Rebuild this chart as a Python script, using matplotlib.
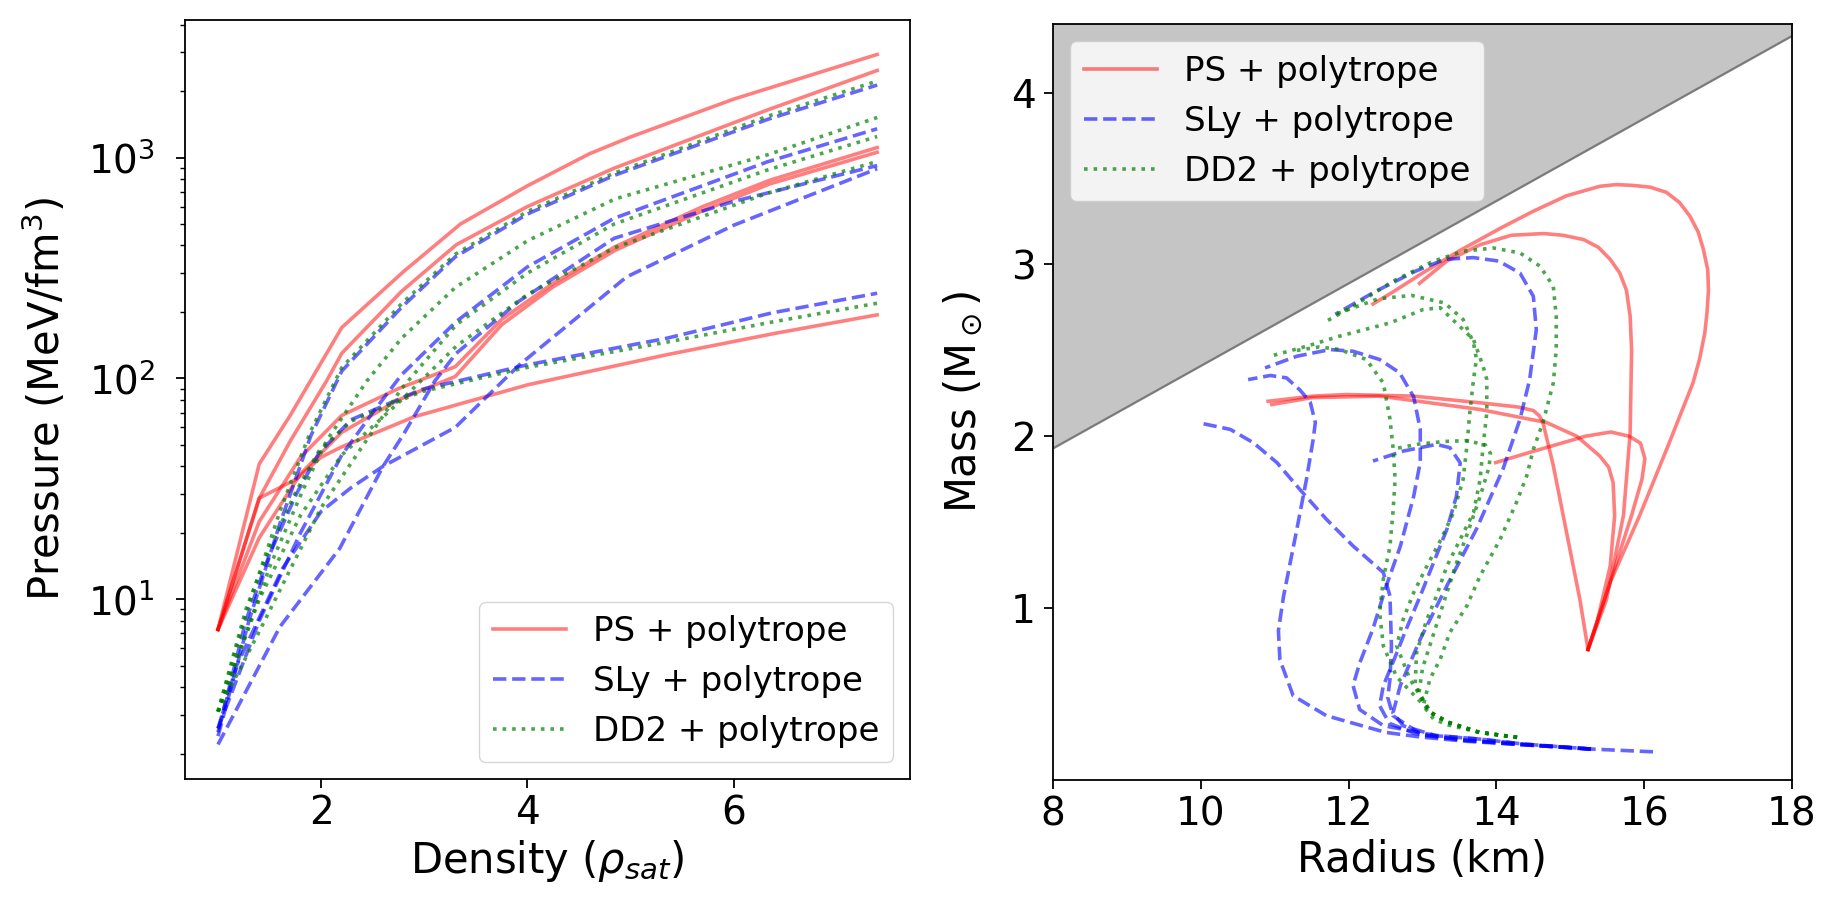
import matplotlib
matplotlib.use("Agg")
import matplotlib.pyplot as plt

# ---------------- Equation of state: pressure vs density ----------------
# PS + polytrope
ps_density = [
    [1.0, 1.4, 1.7, 2.2, 2.8, 3.35, 4.0, 4.6, 5.0, 6.0, 7.39],
    [1.0, 1.4, 1.7, 2.05, 2.2, 2.78, 3.31, 4.0, 4.84, 6.33, 7.39],
    [1.0, 1.4, 1.8, 2.2, 2.75, 3.3, 3.75, 4.25, 4.85, 5.7, 6.35, 7.39],
    [1.0, 1.4, 1.8, 2.2, 2.75, 3.3, 3.75, 4.25, 4.85, 5.7, 6.35, 7.39],
    [1.0, 1.4, 1.76, 2.0, 2.2, 2.9, 4.0, 5.35, 6.4, 7.39],
]
ps_pressure = [
    [7.3, 41, 68, 170, 305, 500, 745, 1040, 1240, 1840, 2930],
    [7.3, 28.7, 52, 97, 130, 248, 403, 600, 895, 1645, 2480],
    [7.3, 22.5, 44, 68, 90, 113, 185, 270, 395, 600, 790, 1110],
    [7.3, 19, 37, 57, 80, 102, 175, 260, 380, 575, 760, 1057],
    [7.3, 28.7, 35, 44, 49, 67, 93.5, 128, 160, 194],
]

# SLy + polytrope
sly_density = [
    [1.0, 1.3, 1.6, 1.9, 2.2, 2.78, 3.3, 4.0, 4.84, 6.33, 7.39],
    [1.0, 1.4, 1.8, 2.2, 2.5, 2.78, 3.31, 4.0, 4.84, 6.33, 7.39],
    [1.0, 1.6, 2.18, 2.6, 2.8, 3.1, 3.31, 3.92, 4.84, 6.0, 7.39],
    [1.0, 1.18, 1.63, 2.0, 2.29, 2.6, 3.3, 3.92, 4.96, 6.0, 7.39],
    [1.0, 1.27, 1.5, 1.76, 1.98, 2.29, 2.97, 3.99, 5.35, 6.37, 7.39],
]
sly_pressure = [
    [2.4, 8, 22, 55, 108, 210, 355, 555, 830, 1490, 2130],
    [2.6, 8, 20, 45, 70, 104, 181, 320, 531, 958, 1350],
    [2.2, 7.5, 17, 40, 56, 97, 130, 224, 431, 633, 920],
    [2.6, 5, 13.9, 25, 32, 40, 60, 115, 288, 494, 890],
    [2.5, 8, 16, 30, 46, 65, 89, 115, 152, 198, 243],
]

# DD2 + polytrope
dd2_density = [
    [1.0, 1.3, 1.6, 1.9, 2.2, 2.78, 3.3, 4.0, 4.84, 6.33, 7.39],
    [1.0, 1.5, 1.82, 2.05, 2.44, 2.78, 3.3, 4.0, 4.85, 6.33, 7.39],
    [1.0, 1.39, 2.0, 2.48, 2.78, 3.31, 4.0, 4.84, 6.33, 7.39],
    [1.0, 1.4, 1.8, 2.2, 2.78, 3.31, 4.0, 4.84, 6.33, 7.39],
    [1.0, 1.27, 1.5, 1.76, 1.98, 2.29, 2.97, 3.99, 5.35, 6.37, 7.39],
]
dd2_pressure = [
    [3.1, 9.5, 25, 58, 112, 218, 365, 570, 850, 1540, 2220],
    [3.1, 14, 31, 52, 97, 152, 258, 420, 650, 1030, 1518],
    [3.1, 7, 26, 56, 90, 175, 300, 500, 880, 1245],
    [3.1, 10, 24, 45, 80, 140, 240, 390, 690, 960],
    [3.1, 9, 17, 31, 47, 64, 87, 112, 146, 180, 219],
]

# ---------------- Mass-radius relations ----------------
ps_radius = [
    [15.24, 15.54, 15.94, 16.3, 16.66, 16.75, 16.82, 16.85, 16.87, 16.86, 16.8, 16.73, 16.62, 16.48, 16.3, 16.08, 15.85,
     15.62, 15.4, 14.95, 14.5, 14.05, 13.5, 13.0, 12.6, 12.33],
    [15.24, 15.49, 15.72, 15.81, 15.83, 15.81, 15.76, 15.67, 15.54, 15.38, 15.18, 14.9, 14.64, 14.2, 13.78, 13.33, 12.96],
    [15.24, 15.13, 14.95, 14.77, 14.63, 14.58, 14.5, 14.3, 13.78, 12.88, 11.97, 11.52, 10.91],
    [15.24, 15.36, 15.54, 15.6, 15.58, 15.52, 15.4, 15.09, 14.68, 13.78, 12.42, 11.5, 10.96],
    [15.24, 15.5, 15.83, 15.97, 16.01, 15.95, 15.8, 15.55, 15.2, 14.8, 14.4, 13.99],
]
ps_mass = [
    [0.76, 1.15, 1.54, 1.92, 2.31, 2.45, 2.6, 2.72, 2.85, 2.97, 3.09, 3.19, 3.28, 3.36, 3.42, 3.45, 3.46,
     3.465, 3.455, 3.40, 3.31, 3.21, 3.08, 2.95, 2.84, 2.77],
    [0.76, 1.05, 1.54, 2.02, 2.5, 2.7, 2.85, 2.95, 3.03, 3.1, 3.145, 3.17, 3.18, 3.17, 3.115, 3.02, 2.89],
    [0.76, 1.05, 1.44, 1.83, 2.08, 2.12, 2.15, 2.17, 2.195, 2.234, 2.243, 2.234, 2.204],
    [0.76, 0.916, 1.245, 1.536, 1.73, 1.82, 1.885, 2.0, 2.08, 2.156, 2.234, 2.225, 2.185],
    [0.76, 1.1, 1.54, 1.75, 1.87, 1.96, 2.0, 2.025, 2.0, 1.95, 1.9, 1.847],
]

sly_radius = [
    [16.12, 15.28, 14.37, 13.77, 13.19, 12.74, 12.6, 12.7, 12.97, 13.33, 13.73, 14.09, 14.32, 14.45, 14.54, 14.5, 14.32, 14.03, 13.69, 13.3, 12.9, 12.35, 11.82],
    [15.28, 14.37, 13.77, 13.17, 12.47, 12.15, 12.06, 12.15, 12.33, 12.51, 12.7, 12.88, 12.97, 12.97, 12.88, 12.69, 12.42, 12.06, 11.75, 11.3, 10.87],
    [15.28, 14.37, 13.6, 12.97, 12.5, 11.7, 11.25, 11.07, 11.05, 11.12, 11.3, 11.43, 11.52, 11.55, 11.48, 11.34, 11.16, 10.94, 10.64],
    [15.28, 14.37, 13.6, 13.0, 12.6, 12.53, 12.56, 12.58, 12.56, 12.47, 12.06, 11.7, 11.34, 11.03, 10.71, 10.4, 9.97],
    [15.28, 14.37, 13.6, 12.9, 12.55, 12.42, 12.47, 12.6, 12.78, 12.97, 13.15, 13.33, 13.46, 13.51, 13.37, 13.19, 12.74, 12.33],
]
sly_mass = [
    [0.164, 0.18, 0.209, 0.238, 0.257, 0.315, 0.39, 0.55, 0.82, 1.13, 1.46, 1.81, 2.10, 2.33, 2.62, 2.815, 2.95, 3.02, 3.04, 3.03, 2.96, 2.84, 2.71],
    [0.18, 0.209, 0.238, 0.26, 0.316, 0.41, 0.55, 0.68, 0.88, 1.13, 1.36, 1.65, 1.85, 2.04, 2.23, 2.37, 2.447, 2.495, 2.505, 2.466, 2.398],
    [0.18, 0.205, 0.225, 0.25, 0.277, 0.374, 0.49, 0.7, 0.87, 1.07, 1.46, 1.75, 1.98, 2.08, 2.2, 2.27, 2.34, 2.354, 2.33],
    [0.18, 0.205, 0.23, 0.26, 0.374, 0.48, 0.587, 0.78, 1.07, 1.207, 1.362, 1.517, 1.691, 1.847, 1.963, 2.04, 2.079],
    [0.18, 0.205, 0.23, 0.27, 0.33, 0.432, 0.548, 0.684, 0.878, 1.071, 1.265, 1.459, 1.653, 1.846, 1.934, 1.953, 1.914, 1.856],
]

dd2_radius = [
    [14.28, 13.77, 13.35, 13.15, 13.01, 13.1, 13.24, 13.37, 13.6, 13.78, 14.05, 14.27, 14.41, 14.5, 14.63, 14.77, 14.81, 14.81, 14.77, 14.59, 14.32, 13.96, 13.55, 13.14, 12.6, 12.06, 11.66],
    [14.28, 13.77, 13.35, 13.11, 12.83, 12.65, 12.74, 12.88, 13.06, 13.25, 13.42, 13.55, 13.6, 13.64, 13.69, 13.73, 13.69, 13.55, 13.3, 12.85, 12.4, 11.82],
    [14.28, 13.77, 13.35, 13.11, 12.9, 12.92, 13.06, 13.19, 13.33, 13.51, 13.69, 13.78, 13.82, 13.87, 13.87, 13.82, 13.69, 13.55, 13.24, 13.01, 12.56, 11.88, 11.43, 10.94],
    [14.28, 13.77, 13.35, 13.11, 12.65, 12.47, 12.42, 12.47, 12.56, 12.6, 12.63, 12.6, 12.56, 12.47, 12.24, 11.88, 11.6, 11.3],
    [14.28, 13.77, 13.35, 13.1, 12.95, 13.0, 13.15, 13.3, 13.45, 13.62, 13.78, 13.9, 13.92, 13.85, 13.6, 13.3, 12.95, 12.65],
]
dd2_mass = [
    [0.248, 0.277, 0.32, 0.354, 0.432, 0.587, 0.703, 0.858, 1.013, 1.188, 1.4, 1.614, 1.769, 1.924, 2.08, 2.31, 2.505, 2.7, 2.873, 2.99, 3.067, 3.096, 3.077, 3.018, 2.902, 2.757, 2.66],
    [0.248, 0.277, 0.335, 0.393, 0.587, 0.78, 0.936, 1.09, 1.245, 1.4, 1.556, 1.75, 1.94, 2.137, 2.33, 2.45, 2.544, 2.68, 2.776, 2.82, 2.80, 2.71],
    [0.248, 0.277, 0.335, 0.393, 0.55, 0.742, 0.936, 1.071, 1.245, 1.4, 1.556, 1.75, 1.944, 2.137, 2.33, 2.408, 2.563, 2.621, 2.748, 2.738, 2.66, 2.583, 2.524, 2.466],
    [0.248, 0.277, 0.335, 0.393, 0.6, 0.78, 0.974, 1.17, 1.36, 1.556, 1.75, 1.94, 2.1, 2.31, 2.447, 2.505, 2.52, 2.5],
    [0.248, 0.277, 0.335, 0.393, 0.5, 0.65, 0.85, 1.05, 1.25, 1.45, 1.65, 1.82, 1.9, 1.95, 1.975, 1.97, 1.955, 1.93],
]

# Excluded region boundary (upper-left shaded wedge)
limit_radius = [8.0, 18.0]
limit_mass = [1.93, 4.33]
mass_top = 4.4

families = [
    ("PS + polytrope", dict(color="r", ls="-", alpha=0.5), ps_density, ps_pressure, ps_radius, ps_mass),
    ("SLy + polytrope", dict(color="b", ls="--", alpha=0.6), sly_density, sly_pressure, sly_radius, sly_mass),
    ("DD2 + polytrope", dict(color="g", ls=":", alpha=0.7), dd2_density, dd2_pressure, dd2_radius, dd2_mass),
]

plt.rcParams["font.family"] = "DejaVu Sans"
plt.rcParams["mathtext.fontset"] = "dejavusans"
LW = 2.6
TICK_FS = 28
LABEL_FS = 30
LEGEND_FS = 24.5

fig = plt.figure(figsize=(18.25, 8.99), dpi=100)
ax1 = fig.add_axes([0.1014, 0.1335, 0.3973, 0.8443])
ax2 = fig.add_axes([0.5770, 0.1324, 0.4049, 0.8410])

for label, style, dens, pres, rad, mass in families:
    for i, (x, y) in enumerate(zip(dens, pres)):
        ax1.plot(x, y, lw=LW, label=label if i == 0 else None, **style)
    for i, (x, y) in enumerate(zip(rad, mass)):
        ax2.plot(x, y, lw=LW, label=label if i == 0 else None, **style)

# Left panel
ax1.set_yscale("log")
ax1.set_xticks([2, 4, 6])
ax1.set_xlabel(r"Density ($\rho_{sat}$)", fontsize=LABEL_FS)
ax1.set_ylabel(r"Pressure (MeV/fm$^3$)", fontsize=LABEL_FS)
ax1.legend(loc="lower right", fontsize=LEGEND_FS, handlelength=2.15)

# Right panel
ax2.fill_between(limit_radius, limit_mass, [mass_top + 1] * 2, color="#c5c5c5", zorder=0)
ax2.plot(limit_radius, limit_mass, color="#7a7a7a", lw=1.5, zorder=0.5)
ax2.set_xlim(8, 18)
ax2.set_ylim(0.0, mass_top)
ax2.set_xticks([8, 10, 12, 14, 16, 18])
ax2.set_yticks([1, 2, 3, 4])
ax2.set_xlabel("Radius (km)", fontsize=LABEL_FS)
ax2.set_ylabel(r"Mass (M$_\odot$)", fontsize=LABEL_FS)
ax2.legend(loc="upper left", fontsize=LEGEND_FS, handlelength=2.15)

for ax in (ax1, ax2):
    ax.tick_params(which="major", labelsize=TICK_FS, length=6.5, width=1.3, pad=4.5)
    ax.tick_params(which="minor", length=3.5, width=1.0)
    for sp in ax.spines.values():
        sp.set_linewidth(1.3)
ax1.tick_params(axis="y", which="major", pad=15)
ax2.tick_params(axis="y", which="major", pad=6)

ax1.yaxis.set_label_coords(-0.160, 0.5)
ax2.yaxis.set_label_coords(-0.092, 0.5)

fig.savefig("out.png", dpi=100)
